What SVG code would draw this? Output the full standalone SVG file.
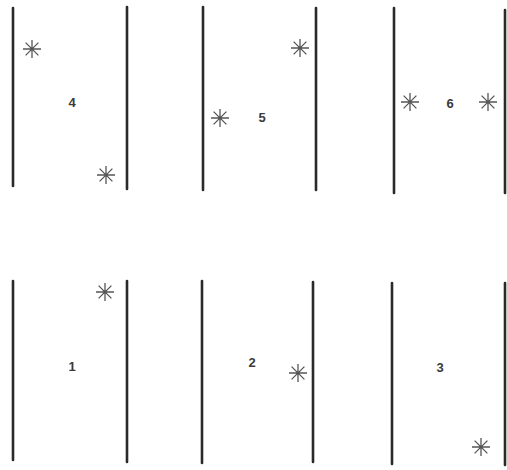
<svg xmlns="http://www.w3.org/2000/svg" width="507" height="470" viewBox="0 0 507 470">
<defs>
<style>
.bar{stroke:#2a2a2a;stroke-width:2.6;stroke-linecap:round;fill:none}
.ast{stroke:#555;stroke-width:1.3;fill:none}
.lbl{font-family:"Liberation Sans",Arial,sans-serif;font-size:13px;font-weight:bold;fill:#3a3a3a;text-anchor:middle;dominant-baseline:central}
</style>
<g id="star"><path class="ast" d="M-9,0H9M0,-9V9M-6.4,-6.4L6.4,6.4M-6.4,6.4L6.4,-6.4"/></g>
</defs>
<rect width="507" height="470" fill="#fff"/>
<g id="panel4">
<line class="bar" x1="13" y1="8" x2="13" y2="186"/>
<line class="bar" x1="127" y1="7" x2="127" y2="189"/>
<use href="#star" x="32" y="49"/>
<use href="#star" x="106" y="175"/>
<text class="lbl" x="72" y="102">4</text>
</g>
<g id="panel5">
<line class="bar" x1="203" y1="7" x2="203" y2="190"/>
<line class="bar" x1="316" y1="8" x2="316" y2="190"/>
<use href="#star" x="220" y="118"/>
<use href="#star" x="300" y="48"/>
<text class="lbl" x="262" y="117">5</text>
</g>
<g id="panel6">
<line class="bar" x1="394" y1="8" x2="394" y2="193"/>
<line class="bar" x1="505" y1="10" x2="505" y2="193"/>
<use href="#star" x="410" y="102"/>
<use href="#star" x="488" y="102"/>
<text class="lbl" x="450" y="103">6</text>
</g>
<g id="panel1">
<line class="bar" x1="13" y1="281" x2="13" y2="460"/>
<line class="bar" x1="127" y1="281" x2="127" y2="462"/>
<use href="#star" x="105" y="292"/>
<text class="lbl" x="72" y="366">1</text>
</g>
<g id="panel2">
<line class="bar" x1="202" y1="281" x2="202" y2="463"/>
<line class="bar" x1="313" y1="282" x2="313" y2="462"/>
<use href="#star" x="298" y="373"/>
<text class="lbl" x="252" y="362">2</text>
</g>
<g id="panel3">
<line class="bar" x1="392" y1="283" x2="392" y2="464"/>
<line class="bar" x1="505" y1="283" x2="505" y2="465"/>
<use href="#star" x="481" y="447"/>
<text class="lbl" x="440" y="367">3</text>
</g>
</svg>
